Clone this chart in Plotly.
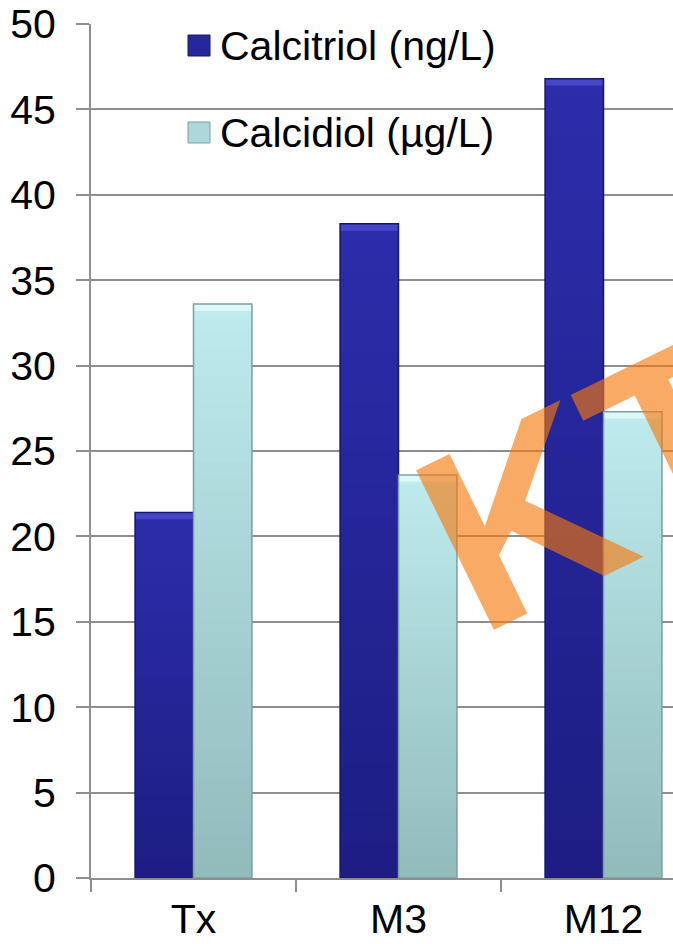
import plotly.graph_objects as go

# ---- data ----
categories = ["Tx", "M3", "M12"]
calcitriol = [21.4, 38.3, 46.8]
calcidiol = [33.6, 23.6, 27.3]
series_names = ["Calcitriol (ng/L)", "Calcidiol (µg/L)"]
y_ticks = [0, 5, 10, 15, 20, 25, 30, 35, 40, 45, 50]
watermark = "KT"

# ---- canvas geometry (pixels) ----
W, H = 673, 944
ML, MR, MT, MB = 91, 0, 24, 66
PW, PH = W - ML - MR, H - MT - MB
CAT_W = 205  # pixel width of one category slot
BEVEL = 0.4  # depth of the lit top edge, in axis units


def px_x(px):
    return (px - ML) / PW


def px_y(py):
    return (H - MB - py) / PH


def blend(c1, c2, t):
    return "rgb(%d,%d,%d)" % tuple(round(a + (b - a) * t) for a, b in zip(c1, c2))


FONT = "Liberation Sans, Arial, sans-serif"
GRID = "#8E8E8E"

# colour ramps: (bottom, top, outline, top highlight)
styles = [
    ((29, 29, 132), (45, 45, 172), "#17176a", "rgb(70,70,200)"),
    ((146, 187, 188), (190, 236, 239), "#7c9fa0", "rgb(222,247,248)"),
]

fig = go.Figure()
N_BANDS = 40
for idx, (vals, (bottom, top, edge, hi)) in enumerate(zip([calcitriol, calcidiol], styles)):
    grp = f"s{idx}"
    # base bar
    fig.add_trace(go.Bar(
        x=categories, y=vals, offsetgroup=grp, name=series_names[idx],
        marker=dict(color=blend(bottom, top, 0), line=dict(width=0)),
        showlegend=False, hoverinfo="skip",
    ))
    # vertical shading, lighter toward the top of each bar
    for i in range(1, N_BANDS):
        f = i / N_BANDS
        base = [v * f for v in vals]
        fig.add_trace(go.Bar(
            x=categories, y=[v - b for v, b in zip(vals, base)], base=base,
            offsetgroup=grp,
            marker=dict(color=blend(bottom, top, f), line=dict(width=0)),
            showlegend=False, hoverinfo="skip",
        ))
    # lit top edge
    fig.add_trace(go.Bar(
        x=categories, y=[BEVEL] * len(vals), base=[v - BEVEL for v in vals],
        offsetgroup=grp, marker=dict(color=hi, line=dict(width=0)),
        showlegend=False, hoverinfo="skip",
    ))
    # outline on top
    fig.add_trace(go.Bar(
        x=categories, y=vals, offsetgroup=grp,
        marker=dict(color="rgba(0,0,0,0)", line=dict(color=edge, width=1.5)),
        showlegend=False, hovertemplate="%{x}: %{y}<extra>" + series_names[idx] + "</extra>",
    ))

# ---- legend (swatch + label) ----
legend_rows = [(35, 56, 46), (122, 143, 133)]
shapes = []
annotations = []
for (top_px, bot_px, mid_px), name, (bottom, top, edge, hi) in zip(legend_rows, series_names, styles):
    shapes.append(dict(
        type="rect", xref="paper", yref="paper",
        x0=px_x(188), x1=px_x(210), y0=px_y(bot_px), y1=px_y(top_px),
        fillcolor=blend(bottom, top, 0.6), line=dict(color=edge, width=1),
    ))
    annotations.append(dict(
        text=name, xref="paper", yref="paper", x=px_x(218), y=px_y(mid_px),
        xanchor="left", yanchor="middle", showarrow=False,
        font=dict(family=FONT, size=41, color="#000000"),
    ))

# ---- watermark ----
annotations.append(dict(
    text="<b>" + watermark + "</b>", xref="paper", yref="paper",
    x=px_x(594), y=px_y(482), xanchor="center", yanchor="middle",
    textangle=-26, showarrow=False,
    font=dict(family=FONT, size=258, color="rgba(245,120,10,0.63)"),
))

fig.update_layout(
    width=W, height=H,
    margin=dict(l=ML, r=MR, t=MT, b=MB, pad=0, autoexpand=False),
    paper_bgcolor="white", plot_bgcolor="white",
    barmode="group", bargap=0.43, bargroupgap=0,
    showlegend=False,
    shapes=shapes, annotations=annotations,
    font=dict(family=FONT, size=41, color="#000000"),
)
fig.update_xaxes(
    type="category", range=[-0.5, -0.5 + PW / CAT_W], automargin=False,
    showline=True, linecolor=GRID, linewidth=2,
    ticks="outside", tickson="boundaries", ticklen=12, tickwidth=2, tickcolor=GRID,
    showgrid=False, ticklabelstandoff=4,
    tickfont=dict(family=FONT, size=41, color="#000000"),
)
fig.update_yaxes(
    range=[0, 50], tickvals=y_ticks, ticktext=[str(t) for t in y_ticks],
    automargin=False,
    showline=True, linecolor=GRID, linewidth=2,
    ticks="outside", ticklen=13, tickwidth=2, tickcolor=GRID,
    showgrid=True, gridcolor=GRID, gridwidth=2, zeroline=False,
    ticklabelstandoff=12,
    tickfont=dict(family=FONT, size=41, color="#000000"),
)

fig.write_html("out.html")
